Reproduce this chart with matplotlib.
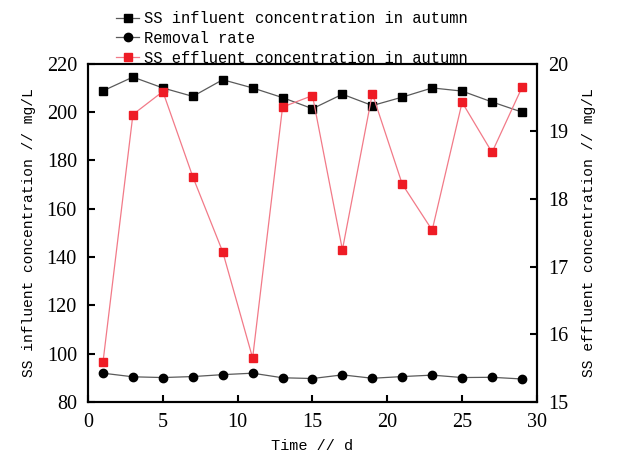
import matplotlib.pyplot as plt

days = [1, 3, 5, 7, 9, 11, 13, 15, 17, 19, 21, 23, 25, 27, 29]

influent_ss = [208.8, 214.5, 210.0, 206.5, 213.4, 210.0, 206.0, 201.4,
               207.4, 202.7, 206.2, 210.0, 208.7, 204.2, 200.0]

removal_rate = [91.9, 90.4, 90.1, 90.5, 91.3, 91.9, 90.0, 89.7,
                91.2, 89.8, 90.5, 91.1, 90.1, 90.2, 89.5]

effluent_ss = [15.59, 19.25, 19.59, 18.33, 17.22, 15.65, 19.36, 19.53,
               17.25, 19.56, 18.22, 17.54, 19.43, 18.69, 19.65]

left_ticks = [80, 100, 120, 140, 160, 180, 200, 220]
right_ticks = [15, 16, 17, 18, 19, 20]
x_ticks = [0, 5, 10, 15, 20, 25, 30]

mono = "Liberation Mono"
serif = "Liberation Serif"

fig = plt.figure(figsize=(6.2, 4.69), dpi=100)
ax = fig.add_axes([0.142, 0.143, 0.724, 0.721])
ax2 = ax.twinx()

l1, = ax.plot(days, influent_ss, color="#5a5a5a", lw=0.9,
              marker="s", ms=5.5, mfc="black", mec="black")
l2, = ax.plot(days, removal_rate, color="#5a5a5a", lw=0.9,
              marker="o", ms=6, mfc="black", mec="black")
l3, = ax2.plot(days, effluent_ss, color="#f27a88", lw=0.9,
               marker="s", ms=6, mfc="#ee1c25", mec="#ee1c25")

ax.set_xlim(0, 30)
ax.set_ylim(80, 220)
ax2.set_ylim(15, 20)
ax.set_xticks(x_ticks)
ax.set_yticks(left_ticks)
ax2.set_yticks(right_ticks)

for a in (ax, ax2):
    a.tick_params(direction="in", length=5, width=1.5, labelsize=14.5, pad=8)
    for s in a.spines.values():
        s.set_linewidth(1.5)
    for lab in a.get_xticklabels() + a.get_yticklabels():
        lab.set_fontfamily(serif)

ax.set_xlabel("Time // d", fontfamily=mono, fontsize=11, labelpad=5)
ax.set_ylabel("SS influent concentration // mg/L", fontfamily=mono,
              fontsize=10.5, labelpad=8)
ax2.set_ylabel("SS effluent concentration // mg/L", fontfamily=mono,
               fontsize=10.5, labelpad=10)

fig.legend([l1, l2, l3],
           ["SS influent concentration in autumn", "Removal rate",
            "SS effluent concentration in autumn"],
           loc="upper left", bbox_to_anchor=(0.172, 0.996), frameon=False,
           prop={"family": mono, "size": 11.2}, handlelength=1.5,
           handletextpad=0.3, labelspacing=0.3, borderaxespad=0.2)

fig.savefig("out.png", dpi=100, facecolor="white")
